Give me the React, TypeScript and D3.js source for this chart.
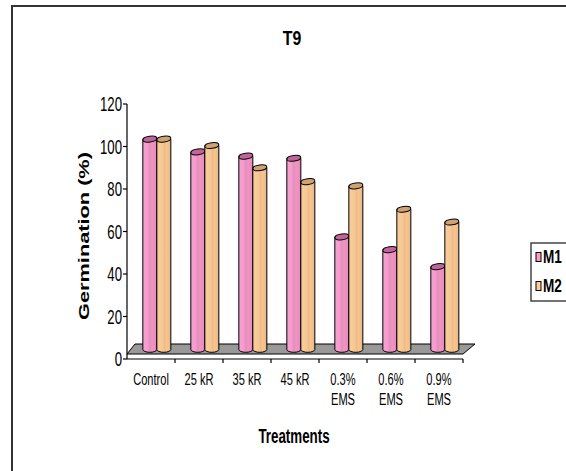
import React from "react";
import * as d3 from "d3";

const categoryLabels: string[][] = [
  ["Control"],
  ["25 kR"],
  ["35 kR"],
  ["45 kR"],
  ["0.3%", "EMS"],
  ["0.6%", "EMS"],
  ["0.9%", "EMS"],
];
const seriesNames = ["M1", "M2"];
const m1Values = [99, 93, 91, 90, 53, 47, 39];
const m2Values = [99, 96, 85.5, 79, 77, 66, 60];
const yTicks = [0, 20, 40, 60, 80, 100, 120];

const W = 566;
const H = 471;
const plotLeft = 127;
const plotRight = 463;
const yBottom = 359;
const yTop = 104;
const depthX = 10;
const depthY = 10;

export default function App() {
  const cats = categoryLabels.map((c) => c.join(" "));
  const x = d3.scaleBand<string>().domain(cats).range([plotLeft, plotRight]).padding(0);
  const inner = d3
    .scaleBand<string>()
    .domain(seriesNames)
    .range([x.bandwidth() * 0.33, x.bandwidth() * 0.33 + 28]);
  const y = d3.scaleLinear().domain([0, 120]).range([yBottom, yTop]);
  const seriesVals = [m1Values, m2Values];
  const bodyFill = ["url(#gM1)", "url(#gM2)"];
  const capFill = ["#c0659b", "#cfa276"];
  const swatch = ["#ff99cc", "#ffcc99"];
  const bw = inner.bandwidth();
  const rx = bw / 2;
  const ry = 2.8;
  const barOffX = depthX / 2 + 1;
  const barOffY = depthY / 2 + 4.5;

  const font = "'Liberation Sans', Arial, sans-serif";

  return (
    <svg
      width={W}
      height={H}
      style={{ position: "fixed", left: 0, top: 0, background: "#fff" }}
      fontFamily={font}
    >
      <defs>
        <linearGradient id="gM1" x1="0" x2="1" y1="0" y2="0">
          <stop offset="0%" stopColor="#f7a3d0" />
          <stop offset="35%" stopColor="#f59ccc" />
          <stop offset="50%" stopColor="#e58cbd" />
          <stop offset="65%" stopColor="#f094c6" />
          <stop offset="100%" stopColor="#e887bb" />
        </linearGradient>
        <linearGradient id="gM2" x1="0" x2="1" y1="0" y2="0">
          <stop offset="0%" stopColor="#f8cc9c" />
          <stop offset="40%" stopColor="#f7c895" />
          <stop offset="55%" stopColor="#eebd8a" />
          <stop offset="70%" stopColor="#f5c590" />
          <stop offset="100%" stopColor="#ebb984" />
        </linearGradient>
      </defs>
      <rect x={0} y={0} width={W} height={H} fill="#fff" />
      {/* outer frame */}
      <path d={`M12,${H + 5} V6 H${W + 5}`} fill="none" stroke="#333" strokeWidth={2} />

      {/* title */}
      <text
        transform={`translate(292,45) scale(0.88,1.15)`}
        textAnchor="middle"
        fontSize={18}
        fontWeight="bold"
      >
        T9
      </text>

      {/* floor */}
      <path
        d={`M${plotLeft},${yBottom - 5} L${plotRight},${yBottom - 5} L${plotRight + depthX + 2},${
          yBottom - 5 - depthY
        } L${plotLeft + depthX - 2},${yBottom - 5 - depthY} Z`}
        fill="#999999"
        stroke="#000"
        strokeWidth={1}
      />

      {/* y axis */}
      <line x1={plotLeft} x2={plotLeft} y1={yTop} y2={yBottom} stroke="#000" strokeWidth={1.2} />
      {yTicks.map((t) => (
        <g key={t}>
          <line x1={plotLeft - 4} x2={plotLeft} y1={y(t)} y2={y(t)} stroke="#000" strokeWidth={1.2} />
          <text
            transform={`translate(122,${y(t) + 7}) scale(0.88,1.3)`}
            textAnchor="end"
            fontSize={15}
          >
            {t}
          </text>
        </g>
      ))}

      {/* x axis */}
      <line x1={plotLeft} x2={plotRight} y1={yBottom} y2={yBottom} stroke="#000" strokeWidth={1.2} />
      {cats.map((c) => (
        <line
          key={c}
          x1={(x(c) as number) + x.bandwidth()}
          x2={(x(c) as number) + x.bandwidth()}
          y1={yBottom}
          y2={yBottom + 4}
          stroke="#000"
          strokeWidth={1.2}
        />
      ))}
      {categoryLabels.map((lines, i) => {
        const cx = (x(cats[i]) as number) + x.bandwidth() / 2;
        return lines.map((ln, j) => (
          <text
            key={`${i}-${j}`}
            transform={`translate(${cx},${385 + j * 20}) scale(0.74,1.12)`}
            textAnchor="middle"
            fontSize={15}
          >
            {ln}
          </text>
        ));
      })}

      {/* bars */}
      {cats.map((c, i) =>
        seriesNames.map((s, k) => {
          const v = seriesVals[k][i];
          const x0 = (x(c) as number) + (inner(s) as number) + barOffX - 6;
          const x1 = x0 + bw;
          const yt = y(v) - barOffY;
          const yb = y(0) - barOffY;
          return (
            <g key={`${c}-${s}`}>
              <path
                d={`M${x0},${yt} L${x0},${yb} A${rx},${ry} 0 0 0 ${x1},${yb} L${x1},${yt} Z`}
                fill={bodyFill[k]}
                stroke="#000"
                strokeWidth={1}
              />
              <ellipse
                cx={(x0 + x1) / 2}
                cy={yt}
                rx={rx}
                ry={ry}
                fill={capFill[k]}
                stroke="#000"
                strokeWidth={1}
                transform={`rotate(-8,${(x0 + x1) / 2},${yt})`}
              />
            </g>
          );
        })
      )}

      {/* axis titles */}
      <text
        transform={`translate(89,236) rotate(-90) scale(1.45,1)`}
        textAnchor="middle"
        fontSize={15}
        fontWeight="bold"
      >
        Germination (%)
      </text>
      <text
        transform={`translate(294,443) scale(0.89,1.3)`}
        textAnchor="middle"
        fontSize={15}
        fontWeight="bold"
      >
        Treatments
      </text>

      {/* legend */}
      <rect x={531} y={243} width={50} height={58} fill="#fff" stroke="#444" strokeWidth={1.5} />
      {seriesNames.map((s, k) => (
        <g key={s}>
          <rect
            x={536}
            y={252.5 + k * 29}
            width={5}
            height={9}
            fill={swatch[k]}
            stroke="#000"
            strokeWidth={1}
          />
          <text
            transform={`translate(543,${263 + k * 29}) scale(0.85,1.1)`}
            fontSize={16}
            fontWeight="bold"
          >
            {s}
          </text>
        </g>
      ))}
    </svg>
  );
}
